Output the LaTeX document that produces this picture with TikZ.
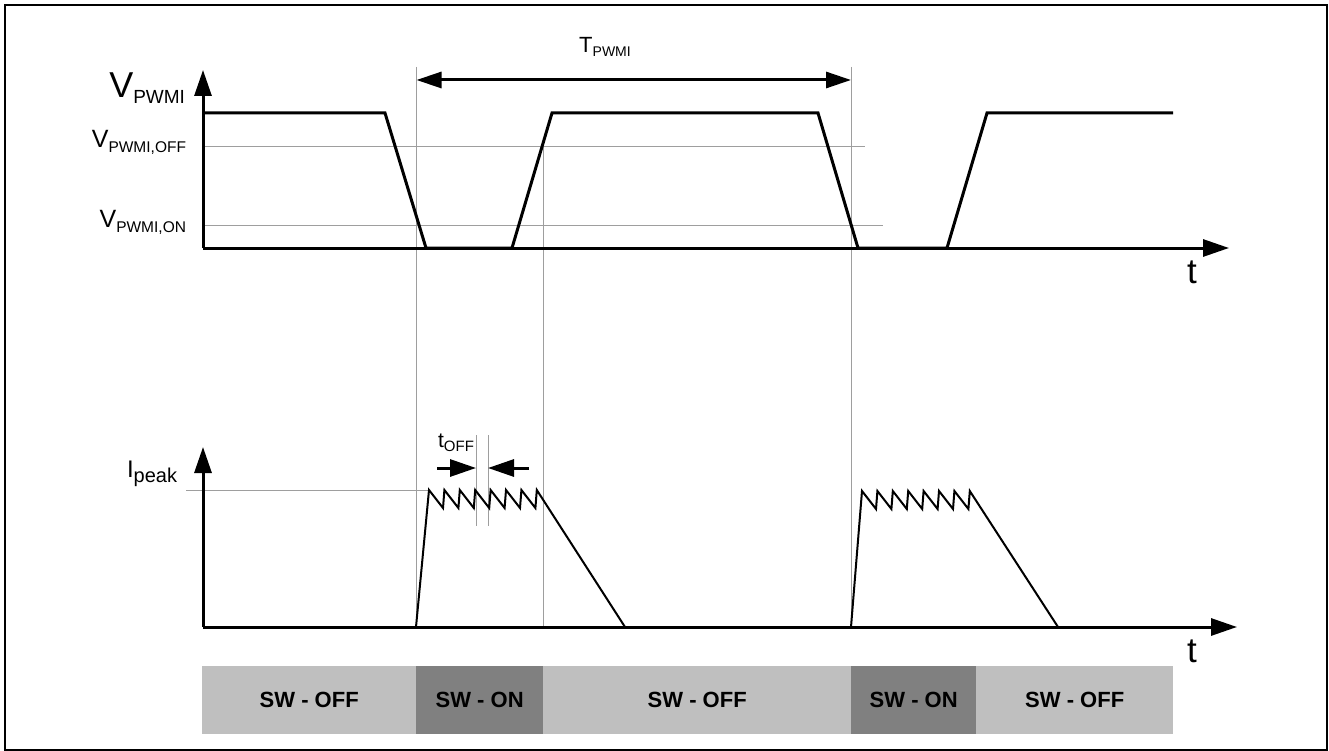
\documentclass[tikz,border=0pt]{standalone}
\usepackage{fontspec}
\setmainfont{Liberation Sans}
\usetikzlibrary{arrows.meta}
\newcommand{\fs}[1]{\fontsize{#1}{#1}\selectfont}
\newcommand{\sublbl}[5]{{\fs{#1}#4}{\fs{#2}\raisebox{-#3pt}{#5}}}
\begin{document}
\begin{tikzpicture}[x=1pt,y=-1pt,
  wave/.style={line width=3pt,line join=miter},
  saw/.style={line width=2pt,line join=miter},
  thin/.style={line width=1pt,draw=black!38},
  axis/.style={line width=3pt,-{Triangle[length=26pt,width=17pt]}},
  dim/.style={line width=3pt,{Triangle[length=25pt,width=16pt]}-{Triangle[length=25pt,width=16pt]}},
  small/.style={line width=3pt,-{Triangle[length=26pt,width=17pt]}},
  lbl/.style={inner sep=0pt,outer sep=0pt},
  bar/.style={fill=#1,draw=none,inner sep=0pt,font=\fs{22}\bfseries},
]
\useasboundingbox (0,0) rectangle (1329,751);
\draw[line width=2pt] (5,5) rectangle (1327,750);

% thin reference lines
\draw[thin] (203,147) -- (865,147);
\draw[thin] (203,226) -- (883,226);
\draw[thin] (186,490) -- (430,490);
\draw[thin] (416.5,67) -- (416.5,628);
\draw[thin] (543,147) -- (543,628);
\draw[thin] (851,67) -- (851,628);
\draw[thin] (476,435) -- (476,526);
\draw[thin] (488,435) -- (488,526);

% top axes
\coordinate (o1) at (203,248);
\coordinate (y1) at (203,70);
\coordinate (x1) at (1229,248);
\draw[axis] (o1) -- (y1);
\draw[axis] (o1) -- (x1);
\node[lbl,anchor=base] (t1) at (1192,283) {\fs{35}t};

% top waveform
\draw[wave] (203,113) -- (385,113) -- (426,248) -- (512,248) -- (552,113) -- (818,113) -- (858,248) -- (947,248) -- (987,113) -- (1173,113);

% bottom axes
\coordinate (o2) at (203,627);
\coordinate (y2) at (203,447);
\coordinate (x2) at (1237,627);
\draw[axis] (o2) -- (y2);
\draw[axis] (o2) -- (x2);
\node[lbl,anchor=base] (t2) at (1192,662) {\fs{35}t};

% current waveforms
\draw[saw] (416,627) -- (429,490) foreach \i in {0,...,6}{ -- ++(14,18) -- ++(1.4,-18)} -- (625,627);
\draw[saw] (851,627) -- (862,491) foreach \i in {0,...,6}{ -- ++(14,18) -- ++(1.4,-18)} -- (1058,627);

% labels
\node[lbl,anchor=base east] (vp) at (185,98) {\sublbl{36}{19}{6}{V}{PWMI}};
\node[lbl,anchor=base east] (voff) at (186,148) {\sublbl{25}{15.5}{5}{V}{PWMI,OFF}};
\node[lbl,anchor=base east] (von) at (186,228) {\sublbl{25}{15.5}{5}{V}{PWMI,ON}};
\node[lbl,anchor=base west] (ip) at (127,477) {\sublbl{24}{20}{5}{I}{peak}};
\node[lbl,anchor=base] (tp) at (605,53) {\sublbl{22}{14}{4}{T}{PWMI}};
\node[lbl,anchor=base] (toff) at (456,447) {\sublbl{21}{15}{4}{t}{OFF}};

% T_PWMI dimension
\coordinate (da) at (416.5,80);
\coordinate (db) at (851,80);
\draw[dim] (da) -- (db);

% t_OFF arrows
\coordinate (ta0) at (437,468);
\coordinate (ta1) at (476,468);
\coordinate (tb0) at (529,468);
\coordinate (tb1) at (488,468);
\draw[small] (ta0) -- (ta1);
\draw[small] (tb0) -- (tb1);

% switch bars
\node[bar=black!25,minimum width=214pt,minimum height=68pt,anchor=north west] (b1) at (202,666) {SW - OFF};
\node[bar=black!50,minimum width=127pt,minimum height=68pt,anchor=north west] (b2) at (416,666) {SW - ON};
\node[bar=black!25,minimum width=308pt,minimum height=68pt,anchor=north west] (b3) at (543,666) {SW - OFF};
\node[bar=black!50,minimum width=125pt,minimum height=68pt,anchor=north west] (b4) at (851,666) {SW - ON};
\node[bar=black!25,minimum width=197pt,minimum height=68pt,anchor=north west] (b5) at (976,666) {SW - OFF};
\end{tikzpicture}
\end{document}
